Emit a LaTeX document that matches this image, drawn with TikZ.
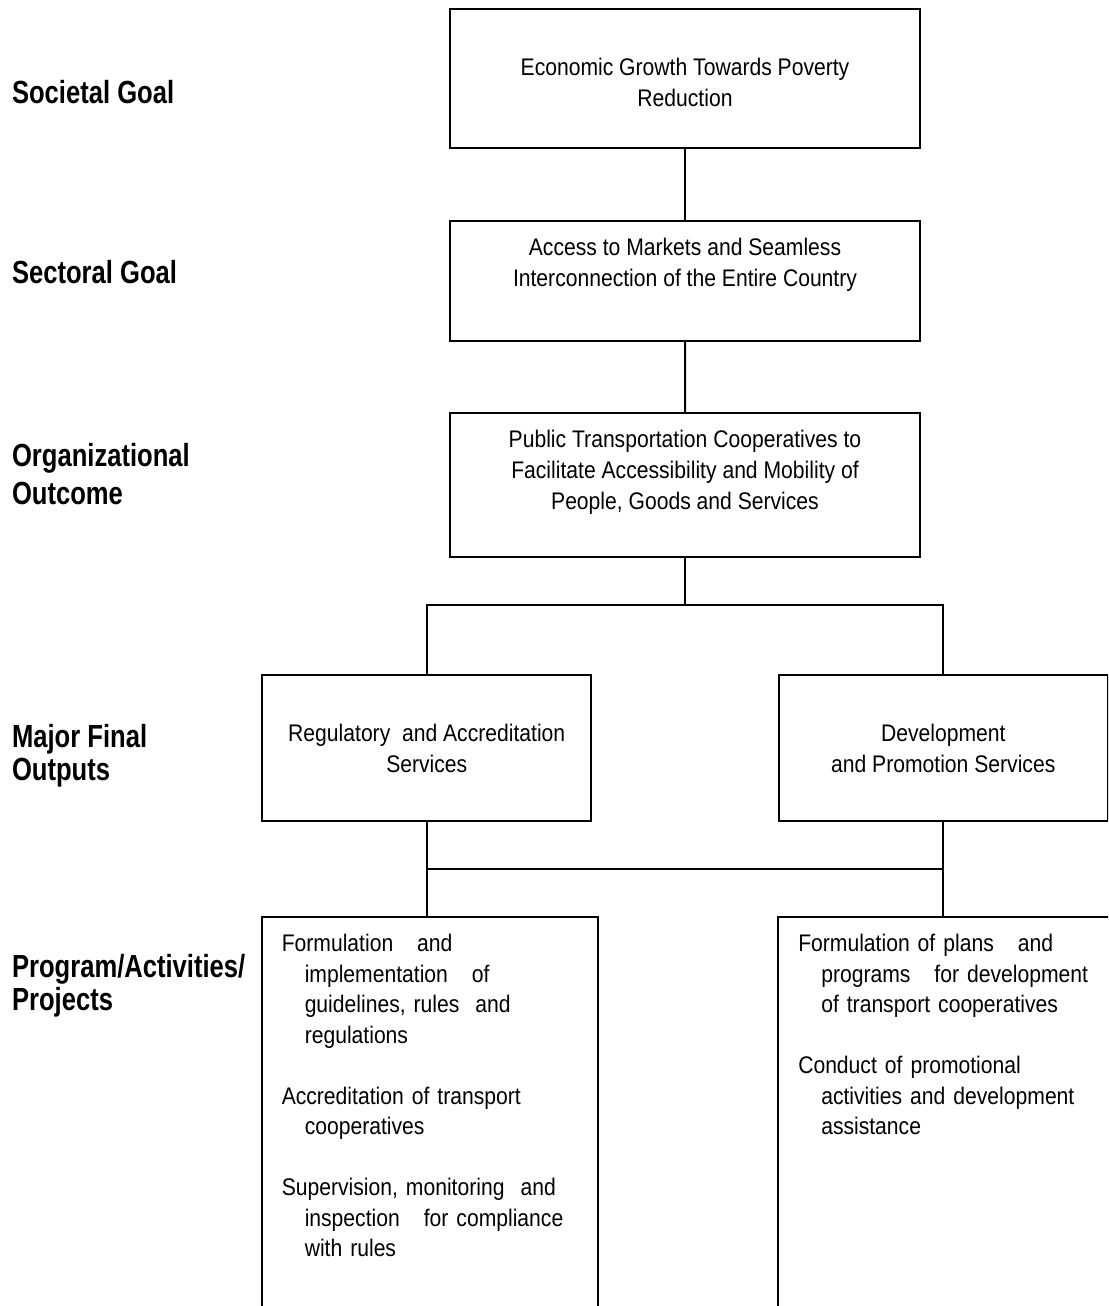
\documentclass[tikz,border=0pt]{standalone}
\usepackage{fontspec}
\setmainfont{Liberation Sans}[FakeStretch=0.88]
\newfontfamily\tagfont{Liberation Sans}[FakeStretch=0.80]
\newcommand{\indline}{\hspace*{11.5pt}}
\newcommand{\padbelow}[1]{\rule[-#1]{0pt}{0pt}}
\newcommand{\padabove}[1]{\rule{0pt}{#1}}

\begin{document}
\begin{tikzpicture}[line width=1pt,
      every node/.style={draw,rectangle,align=center,
        font=\fontsize{12}{15.5}\selectfont},
      level 1/.style={level distance=101.25pt},
      level 2/.style={level distance=102pt},
      level 3/.style={level distance=131.5pt, sibling distance=258.25pt,
        edge from parent path={(\tikzparentnode.south) -- ++(0,-23.5pt) -| (\tikzchildnode.north)}},
      level 4/.style={level distance=84pt,
        edge from parent path={(\tikzparentnode.south) -- (\tikzparentnode.south |- \tikzchildnode.north)}},
      mainbox/.style={minimum width=235pt},
      outbox/.style={minimum width=164.5pt, minimum height=73pt},
      actbox/.style={anchor=north, xshift=1.5pt, align=left, text width=148pt,
        inner xsep=10pt, inner ysep=8.75pt, font=\fontsize{12}{15.25}\selectfont},
      rowlabel/.style={draw=none, anchor=north west, align=left, inner sep=0pt,
        font=\tagfont\bfseries\fontsize{16}{16.5}\selectfont}]
    \path[use as bounding box, clip] (0,0) rectangle (554pt,-653pt);

    \node (goal) at (342.5pt,-39.25pt) [mainbox, minimum height=69.5pt]
        {\padabove{12.2pt}Economic Growth Towards Poverty\\Reduction}
    child {
        node (sect) [mainbox, minimum height=60pt]
            {Access to Markets and Seamless\\Interconnection of the Entire Country\padbelow{18.75pt}}
        child {
            node (org) [mainbox, minimum height=72pt]
                {Public Transportation Cooperatives to\\Facilitate Accessibility and Mobility of\\People, Goods and Services\padbelow{15.25pt}}
            child {
                node (regs) [outbox] {Regulatory~~and Accreditation\\Services}
                child {
                    node (regact) [actbox] {Formulation~~~and\\
                        \indline implementation~~~of\\
                        \indline guidelines, rules~~and\\
                        \indline regulations\\[15.25pt]
                        Accreditation of transport\\
                        \indline cooperatives\\[15.25pt]
                        Supervision, monitoring~~and\\
                        \indline inspection~~~for compliance\\
                        \indline with rules\padbelow{40pt}}
                }
            }
            child {
                node (devs) [outbox] {Development\\and Promotion Services}
                child {
                    node (devact) [actbox] {Formulation of plans~~~and\\
                        \indline programs~~~for development\\
                        \indline of transport cooperatives\\[15.25pt]
                        Conduct of promotional\\
                        \indline activities and development\\
                        \indline assistance\padbelow{110pt}}
                }
            }
        }
    };

    \draw ([yshift=-23.5pt]regs.south) -- ([yshift=-23.5pt]devs.south);

    \node (socgoal) [rowlabel] at (5.5pt,-39.65pt) {Societal Goal};
    \node (secgoal) [rowlabel] at (5.5pt,-129.65pt) {Sectoral Goal};
    \node (orgout) [rowlabel] at (5.5pt,-221.35pt) {Organizational\\[2.5pt]Outcome};
    \node (mfo) [rowlabel] at (5.5pt,-361.5pt) {Major Final\\Outputs};
    \node (pap) [rowlabel] at (5.5pt,-476.5pt) {Program/Activities/\\Projects};
\end{tikzpicture}
\end{document}
